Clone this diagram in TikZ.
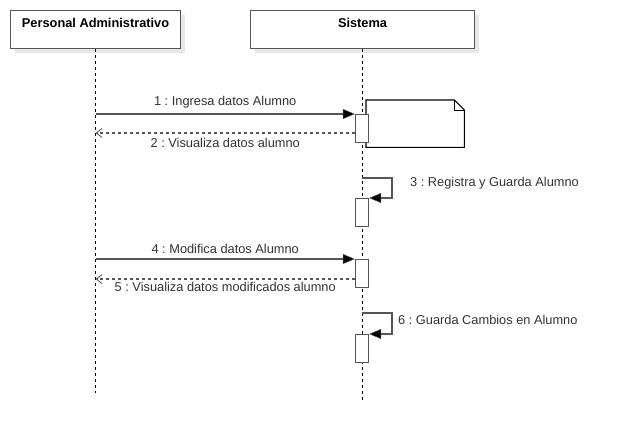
\documentclass[tikz,border=0pt]{standalone}
\usepackage{fontspec}
\setmainfont{Liberation Sans}
\usetikzlibrary{arrows.meta,shadows}
\definecolor{linec}{RGB}{85,85,85}
\definecolor{textc}{RGB}{50,50,50}
\definecolor{shadowc}{RGB}{232,232,232}
\frenchspacing
\begin{document}
\begin{tikzpicture}[x=1pt,y=-1pt,
  font=\fontsize{12.8}{15}\selectfont,
  head/.style={draw=linec, line width=1.1pt, fill=white, inner sep=0, anchor=north west,
    minimum height=38pt, drop shadow={shadow xshift=4pt, shadow yshift=-4pt, fill=shadowc, opacity=1}},
  headtxt/.style={inner sep=0, font=\fontsize{12.8}{15}\selectfont\bfseries, text=black},
  life/.style={draw=black, line width=0.9pt, dash pattern=on 3pt off 3pt},
  act/.style={draw=linec, line width=1.3pt, fill=white, inner sep=0, anchor=north,
    minimum width=13pt, minimum height=28pt},
  msg/.style={draw=linec, line width=1.3pt, -{Triangle[length=12pt,width=10pt,fill=black,line width=0.5pt]}},
  ret/.style={draw=linec, line width=1.1pt, dash pattern=on 3pt off 3pt,
    -{Straight Barb[length=6pt,width=9pt,line width=0.8pt]}},
  lbl/.style={inner sep=0, text=textc},
  notebox/.style={inner sep=0, anchor=north west, minimum width=98pt, minimum height=47pt}]
\useasboundingbox (0,0) rectangle (620,442);

% headers
\node[head, minimum width=170pt] (pa) at (10,10) {};
\node[head, minimum width=224pt] (si) at (250,10) {};
\node[headtxt] (pat) at ([yshift=-12.5pt]pa.north) {Personal Administrativo};
\node[headtxt] (sit) at ([yshift=-12.5pt]si.north) {Sistema};

% lifelines
\coordinate (pend) at (95,393);
\coordinate (send) at (362,403);
\draw[life] (pa.south) -- (pa.south |- pend);
\draw[life] (si.south) -- (si.south |- send);

% note
\node[notebox] (n1) at (366,100) {};
\draw[draw=black, line width=1.1pt, fill=white]
  (n1.north west) -- ([xshift=-10pt]n1.north east) -- ([yshift=-10pt]n1.north east)
  -- (n1.south east) -- (n1.south west) -- cycle;
\draw[draw=black, line width=0.9pt]
  ([xshift=-10pt]n1.north east) -- ([xshift=-10pt,yshift=-10pt]n1.north east) -- ([yshift=-10pt]n1.north east);

% activations
\node[act] (a1) at (362,114) {};
\node[act] (a2) at (362,198) {};
\node[act] (a3) at (362,259) {};
\node[act] (a4) at (362,334) {};

% message 1 and 2
\draw[msg] (pa.south |- a1.north) -- (a1.north west)
  node[lbl, midway, above=5pt] (m1) {1 : Ingresa datos Alumno};
\coordinate (r2) at ([yshift=-19pt]a1.north west);
\draw[ret] (r2) -- (r2 -| pa.south)
  node[lbl, midway, below=5pt] (m2) {2 : Visualiza datos alumno};

% self message 3
\coordinate (s3) at ([yshift=20pt]a2.north);
\draw[msg] (s3) -- ++(30,0) |- (a2.north east);
\node[lbl, anchor=west] (m3) at (410,183.5) {3 : Registra y Guarda Alumno};

% message 4 and 5
\draw[msg] (pa.south |- a3.north) -- (a3.north west)
  node[lbl, midway, above=5pt] (m4) {4 : Modifica datos Alumno};
\coordinate (r5) at ([yshift=-20pt]a3.north west);
\draw[ret] (r5) -- (r5 -| pa.south)
  node[lbl, midway, below=3pt] (m5) {5 : Visualiza datos modificados alumno};

% self message 6
\coordinate (s6) at ([yshift=21pt]a4.north);
\draw[msg] (s6) -- ++(30,0) |- (a4.north east);
\node[lbl, anchor=west] (m6) at (398,320) {6 : Guarda Cambios en Alumno};
\end{tikzpicture}
\end{document}
